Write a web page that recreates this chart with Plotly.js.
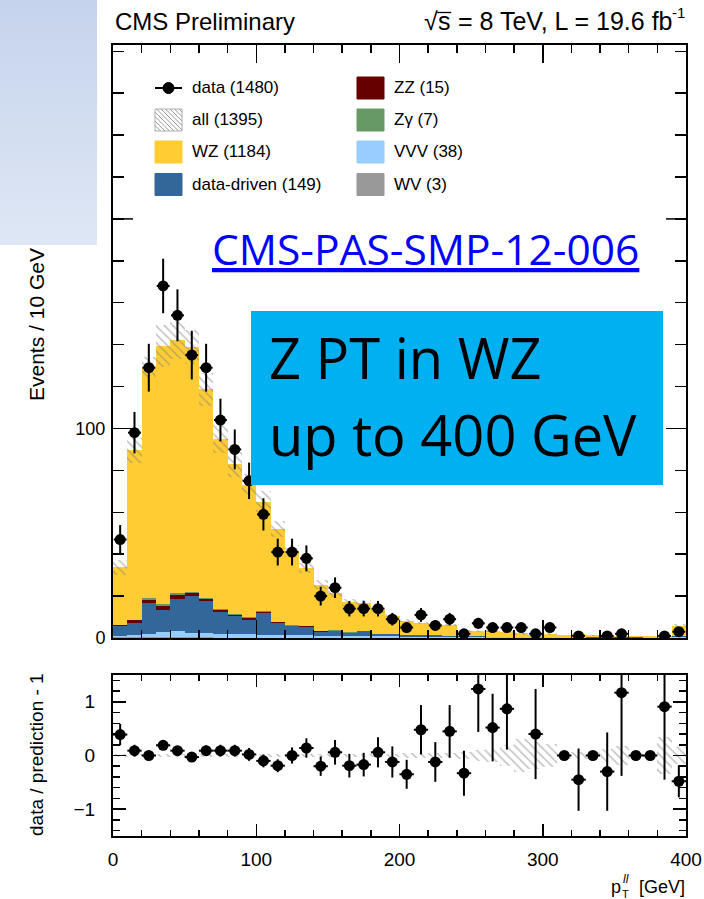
<!DOCTYPE html>
<html><head><meta charset="utf-8">
<script src="https://cdn.plot.ly/plotly-3.0.1.min.js"></script>
<style>
html,body{margin:0;padding:0;background:#fff;}
#wrap{position:relative;width:704px;height:899px;}
#plot{position:absolute;left:0;top:0;width:704px;height:899px;}
#ovl{position:absolute;left:0;top:0;width:97px;height:245px;background:linear-gradient(to bottom,#c5d3ec,#dfe7f5);z-index:5;}
</style></head><body>
<div id="wrap"><div id="plot"></div><div id="ovl"></div></div>
<script>
// ---- data ----
const binCenters = [5,15,25,35,45,55,65,75,85,95,105,115,125,135,145,155,165,175,185,195,205,215,225,235,245,255,265,275,285,295,305,315,325,335,345,355,365,375,385,395];
const dataCounts = [47,98,129,168,154,135,129,104,90,75,59,41,41,38,20,24,14,14,14,9,5,11,6,9,2,7,5,5,5,2,5,null,1,null,1,2,null,null,1,3];
const dataErr = [6.9,9.9,11.4,13,12.4,11.6,11.4,10.2,9.5,8.7,7.7,6.4,6.4,6.2,4.5,4.9,3.7,3.7,3.7,3,2.2,3.3,2.4,3,1.4,2.6,2.2,2.2,2.2,1.4,2.2,0,1,0,1,1.4,0,0,1,1.7];
const wzYield = [27.6,80.7,110.1,123.2,120.4,116.9,99.7,81.3,71.4,63.2,52.2,44.2,35.4,27.6,22.2,17.9,14.3,13.1,11.1,8.4,6.8,5.9,5.3,5.0,2.4,2.4,2.85,2.2,1.5,1.1,1.3,1.0,1.4,0.9,1.1,0.6,0.5,0.6,0.6,5.0];
const dataDriven = [4.9,5.7,14.6,10.6,15.2,17.5,15.3,10.5,8.5,7.0,10.2,5.6,4.1,4.2,1.9,2.2,1.5,2.3,1.1,1.1,0.8,0.6,0.6,0.5,0.4,0.4,0.3,0.3,0.3,0.2,0.2,0.2,0.1,0.1,0.1,0.1,0.1,0,0,0.3];
const zzYield = [0.3,1.5,1.8,2.0,2.1,1.4,0.8,1.1,0.8,0.8,0.8,0.5,0.3,0.3,0.2,0.3,0.1,0.1,0.1,0.1,0,0,0,0,0,0,0,0,0,0,0,0,0,0,0,0,0,0,0,0];
const zgYield = [0.2,0.3,0.6,1.0,1.1,0.7,0.5,0.4,0.4,0.3,0.3,0.2,0.3,0.2,0.1,0.1,0.1,0.1,0.1,0,0,0,0,0,0,0,0,0,0,0,0,0,0,0,0,0,0,0,0,0];
const vvvYield = [0.5,1.0,1.6,2.4,2.9,2.2,2.0,1.7,1.7,1.6,1.5,1.4,1.3,1.2,1.1,1.0,1.0,0.9,0.8,0.8,0.7,0.7,0.6,0.6,0.5,0.5,0.4,0.4,0.4,0.3,0.3,0.3,0.3,0.2,0.2,0.2,0.2,0.2,0.2,0.5];
const wvYield = [0.3,0.3,0.3,0.3,0.3,0.3,0.3,0.2,0.2,0.2,0.1,0.1,0.1,0,0,0,0,0,0,0,0,0,0,0,0,0,0,0,0,0,0,0,0,0,0,0,0,0,0,0];
const mcUnc = [3.5,6,5,10,9,8,8,7,6,5,5,4,3,2.5,2,1.8,1.5,1.4,1.1,0.9,0.7,0.6,0.5,0.5,0.4,0.4,0.5,0.5,0.6,0.4,0.4,0.1,0.1,0.1,0.2,0.2,0.05,0.05,0.3,0.9];
const ratio = [0.39,0.09,0.0,0.19,0.09,-0.03,0.09,0.09,0.09,0.02,-0.10,-0.19,0.0,0.14,-0.20,0.06,-0.19,-0.17,0.06,-0.12,-0.35,0.48,-0.12,0.45,-0.33,1.24,0.52,0.87,null,0.40,null,0,-0.45,0,-0.30,1.17,0,0,0.91,-0.48];
const ratioErr = [0.2,0.11,0.09,0.09,0.09,0.08,0.1,0.11,0.11,0.12,0.12,0.12,0.15,0.18,0.18,0.23,0.22,0.22,0.28,0.29,0.27,0.46,0.37,0.49,0.42,0.8,0.63,0.76,0,0.84,0,0,0.58,0,0.73,1.55,0,0,1.36,0.3];
const ratioUnc = [0.03,0.03,0.03,0.03,0.03,0.03,0.03,0.03,0.03,0.03,0.03,0.03,0.03,0.03,0.03,0.03,0.03,0.03,0.03,0.03,0.04,0.04,0.05,0.05,0.06,0.1,0.12,0.2,0.3,0.25,0.22,0.07,0.06,0.07,0.12,0.17,0.05,0.05,0.35,0.15];
const mainYTickVals = [0,100];          // the "200" label is hidden under the slide's box
const mainYHiddenTick = 200;
const ratioXTickVals = [0,100,200,300,400];
const ratioYTickVals = [-1,0,1];
const legendCol1 = ['data (1480)','all (1395)','WZ (1184)','data-driven (149)'];
const legendCol2 = ['ZZ (15)','Zγ (7)','VVV (38)','WV (3)'];

// ---- styling ----
const W = 704, H = 899;
const px = v => v / W, py = v => 1 - v / H;
const FONT = 'Liberation Sans, Arial, Helvetica, sans-serif';
const colors = {WZ:'#ffcc33', DD:'#336699', ZZ:'#660000', ZG:'#669966', VVV:'#99ccff', WV:'#999999'};

const stack = [
  {name:'WV', y:wvYield, c:colors.WV},
  {name:'VVV', y:vvvYield, c:colors.VVV},
  {name:'data-driven', y:dataDriven, c:colors.DD},
  {name:'ZZ', y:zzYield, c:colors.ZZ},
  {name:'Zγ', y:zgYield, c:colors.ZG},
  {name:'WZ', y:wzYield, c:colors.WZ}
];
const traces = stack.map(s => ({
  type:'bar', name:s.name, x:binCenters, y:s.y, width:10,
  marker:{color:s.c, line:{width:0}}, xaxis:'x', yaxis:'y', showlegend:false, hoverinfo:'skip'
}));
const total = binCenters.map((_, i) => stack.reduce((a, s) => a + s.y[i], 0));
const hatch = {shape:'\\', fgcolor:'#7f7f7f', bgcolor:'rgba(0,0,0,0)', size:6, solidity:0.25, fillmode:'overlay'};
traces.push({
  type:'bar', name:'all', x:binCenters, base:total.map((t, i) => t - mcUnc[i]), y:mcUnc.map(u => 2*u), width:10,
  marker:{color:'rgba(0,0,0,0)', line:{width:0}, pattern:hatch}, xaxis:'x', yaxis:'y', showlegend:false, hoverinfo:'skip'
});
traces.push({
  type:'scatter', mode:'markers', name:'data', x:binCenters, y:dataCounts, xaxis:'x', yaxis:'y',
  marker:{color:'#000', size:11},
  error_y:{type:'data', array:dataErr, visible:true, color:'#000', thickness:2, width:0},
  error_x:{type:'constant', value:4.5, visible:true, color:'#000', thickness:2, width:0},
  showlegend:false, hoverinfo:'skip'
});
traces.push({
  type:'bar', name:'uncertainty', x:binCenters, base:ratioUnc.map(u => -u), y:ratioUnc.map(u => 2*u), width:10,
  marker:{color:'rgba(0,0,0,0)', line:{width:0}, pattern:hatch}, xaxis:'x2', yaxis:'y2', showlegend:false, hoverinfo:'skip'
});
traces.push({
  type:'scatter', mode:'markers', name:'ratio', x:binCenters, y:ratio, xaxis:'x2', yaxis:'y2',
  marker:{color:'#000', size:11},
  error_y:{type:'data', array:ratioErr, visible:true, color:'#000', thickness:2, width:0},
  error_x:{type:'constant', value:5, visible:true, color:'#000', thickness:2, width:0},
  showlegend:false, hoverinfo:'skip'
});

const axBase = {showgrid:false, zeroline:false, showline:true, linecolor:'#000', linewidth:2,
  mirror:'allticks', ticks:'inside', tickcolor:'#000', tickwidth:1.5, tickfont:{family:FONT, size:19, color:'#000'}};

// ---- legend (drawn) ----
const shapes = [], annotations = [];
const colX = [155, 357], rowY = [88, 120, 152, 184.5], bw = 27, bh = 22;
function box(x, y, color){
  shapes.push({type:'rect', xref:'paper', yref:'paper', x0:px(x), x1:px(x+bw), y0:py(y+bh/2), y1:py(y-bh/2),
    fillcolor:color, line:{color:color, width:1}, layer:'above'});
}
function txt(x, y, t, opts){
  annotations.push(Object.assign({xref:'paper', yref:'paper', x:px(x), y:py(y), xanchor:'left', yanchor:'middle',
    text:t, showarrow:false, borderpad:0, borderwidth:0, font:{family:FONT, size:17, color:'#000'}}, opts || {}));
}
shapes.push({type:'line', xref:'paper', yref:'paper', x0:px(colX[0]), x1:px(colX[0]+bw), y0:py(rowY[0]), y1:py(rowY[0]), line:{color:'#000', width:2}});
shapes.push({type:'circle', xref:'paper', yref:'paper', x0:px(colX[0]+bw/2-5.5), x1:px(colX[0]+bw/2+5.5), y0:py(rowY[0]+5.5), y1:py(rowY[0]-5.5), fillcolor:'#000', line:{color:'#000', width:1}});
{
  const x0 = colX[0], x1 = colX[0]+bw, y0 = rowY[1]-bh/2, y1 = rowY[1]+bh/2;
  shapes.push({type:'rect', xref:'paper', yref:'paper', x0:px(x0), x1:px(x1), y0:py(y1), y1:py(y0), line:{color:'#b0b0b0', width:1}});
  for (let c = y0 - x1 + 3; c < y1 - x0; c += 4.5) {
    const xs = Math.max(x0, y0 - c), xe = Math.min(x1, y1 - c);
    if (xe - xs > 0.5) shapes.push({type:'line', xref:'paper', yref:'paper', x0:px(xs), x1:px(xe), y0:py(xs + c), y1:py(xe + c), line:{color:'#9a9a9a', width:1}});
  }
}
box(colX[0], rowY[2], colors.WZ);
box(colX[0], rowY[3], colors.DD);
box(colX[1], rowY[0], colors.ZZ);
box(colX[1], rowY[1], colors.ZG);
box(colX[1], rowY[2], colors.VVV);
box(colX[1], rowY[3], colors.WV);
legendCol1.forEach((t, i) => txt(colX[0]+37, rowY[i], t));
legendCol2.forEach((t, i) => txt(colX[1]+37, rowY[i], t));

// major tick at 200 whose label is hidden (left and mirrored right side)
shapes.push({type:'line', xref:'paper', yref:'y', x0:px(113), x1:px(133), y0:mainYHiddenTick, y1:mainYHiddenTick, line:{color:'#000', width:1.5}});
shapes.push({type:'line', xref:'paper', yref:'y', x0:px(666), x1:px(686), y0:mainYHiddenTick, y1:mainYHiddenTick, line:{color:'#000', width:1.5}});

// overlay box from the slide
shapes.push({type:'rect', xref:'paper', yref:'paper', x0:px(251), x1:px(663), y0:py(485), y1:py(311), fillcolor:'#00b0f0', line:{width:0}, layer:'above'});

// header texts
txt(115, 21, 'CMS Preliminary', {font:{family:FONT, size:24, color:'#000'}});
const HS = 25;
const xEnd = 685, supW = 0.889*15, restW = 8.838*HS, sW = 0.5*HS, rootW = 0.549*HS;
txt(xEnd, 13, '-1', {xanchor:'right', font:{family:FONT, size:15, color:'#000'}});
txt(xEnd - supW, 21, ' = 8 TeV, L = 19.6 fb', {xanchor:'right', font:{family:FONT, size:HS, color:'#000'}});
txt(xEnd - supW - restW, 21, 's', {xanchor:'right', font:{family:FONT, size:HS, color:'#000'}});
txt(xEnd - supW - restW - sW, 21, '√', {xanchor:'right', font:{family:FONT, size:HS, color:'#000'}});
shapes.push({type:'line', xref:'paper', yref:'paper', x0:px(xEnd - supW - restW - sW - 1), x1:px(xEnd - supW - restW + 0.5),
  y0:py(12.5), y1:py(12.5), line:{color:'#000', width:1.3}});

// axis titles
txt(36, 325, 'Events / 10 GeV', {xanchor:'center', textangle:-90, font:{family:FONT, size:21, color:'#000'}});
txt(36, 755, 'data / prediction - 1', {xanchor:'center', textangle:-90, font:{family:FONT, size:19, color:'#000'}});
txt(685, 887, '[GeV]', {xanchor:'right', font:{family:FONT, size:18, color:'#000'}});
txt(611, 887, 'p', {font:{family:FONT, size:18, color:'#000'}});
txt(623, 878.5, 'll', {font:{family:FONT, size:12, color:'#000', style:'italic'}});
txt(622, 893.5, 'T', {font:{family:FONT, size:11, color:'#000'}});

// slide texts
txt(212, 248, 'CMS-PAS-SMP-12-006', {font:{family:'Open Sans, sans-serif', size:42.5, color:'#0000ff', lineposition:'under'}});
txt(269, 357, 'Z PT in WZ', {font:{family:'Open Sans, sans-serif', size:56, color:'#000'}});
txt(269, 434, 'up to 400 GeV', {font:{family:'Open Sans, sans-serif', size:56, color:'#000'}});

const layout = {
  width:W, height:H, margin:{l:0, r:0, t:0, b:0}, paper_bgcolor:'#fff', plot_bgcolor:'#fff',
  barmode:'stack', bargap:0, showlegend:false, font:{family:FONT},
  xaxis:Object.assign({}, axBase, {domain:[px(113), px(686)], anchor:'y', range:[0,400], tick0:0, dtick:100,
    ticklen:18, showticklabels:false, minor:{ticks:'inside', dtick:20, tick0:0, ticklen:8, tickcolor:'#000', tickwidth:1.5}}),
  yaxis:Object.assign({}, axBase, {domain:[py(638), py(45)], anchor:'x', range:[0,283], tickmode:'array',
    tickvals:mainYTickVals, ticklen:20, ticklabelstandoff:2, tickfont:{family:FONT, size:18, color:'#000'},
    minor:{ticks:'inside', tickmode:'linear', dtick:20, tick0:0, ticklen:11, tickcolor:'#000', tickwidth:1.5}}),
  xaxis2:Object.assign({}, axBase, {domain:[px(113), px(686)], anchor:'y2', range:[0,400], tickmode:'array',
    tickvals:ratioXTickVals, ticklen:12, ticklabelstandoff:5,
    minor:{ticks:'inside', tickmode:'linear', dtick:20, tick0:0, ticklen:6, tickcolor:'#000', tickwidth:1.5}}),
  yaxis2:Object.assign({}, axBase, {domain:[py(836), py(675)], anchor:'x2', range:[-1.5,1.5], tickmode:'array',
    tickvals:ratioYTickVals, ticklen:13, ticklabelstandoff:12,
    minor:{ticks:'inside', tickmode:'linear', dtick:0.2, tick0:0, ticklen:7, tickcolor:'#000', tickwidth:1.5}}),
  shapes:shapes, annotations:annotations
};
Plotly.newPlot('plot', traces, layout, {staticPlot:true, displayModeBar:false});
</script>
</body></html>
